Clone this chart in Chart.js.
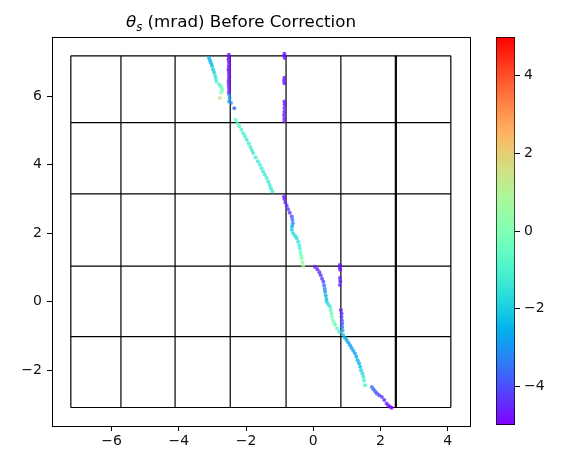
<!DOCTYPE html>
<html>
<head>
<meta charset="utf-8">
<script src="https://cdn.jsdelivr.net/npm/chart.js@4.4.1/dist/chart.umd.min.js"></script>
<style>
html, body { margin: 0; padding: 0; background: #fff; }
#wrap { position: relative; width: 565px; height: 454px; }
#main { position: absolute; left: 0; top: 0; }
#cbar { position: absolute; left: 496px; top: 0; }
</style>
</head>
<body>
<div id="wrap">
  <canvas id="main" width="565" height="454"></canvas>
  <canvas id="cbar" width="69" height="454"></canvas>
</div>
<script>
// scatter points: position and theta_s (mrad)
var posX = [
  -3.10, -3.07, -3.04, -3.01, -2.98, -2.95, -2.92, -2.90, -2.88, -2.80, -2.75, -2.72, -2.71, -2.74, -2.78,
  -2.50, -2.49, -2.50, -2.45, -2.35,
  -2.51, -2.51, -2.52, -2.51, -2.50, -2.51, -2.52, -2.51, -2.51, -2.50, -2.51, -2.52, -2.51, -2.51, -2.50, -2.51,
  -0.86, -0.86, -0.85, -0.86, -0.87, -0.86, -0.86, -0.85, -0.86, -0.86, -0.87, -0.86, -0.86,
  -2.31, -2.26, -2.20, -2.14, -2.08, -2.03, -1.98, -1.92, -1.87, -1.83, -1.79, -1.72, -1.65, -1.59, -1.54, -1.49, -1.44, -1.39, -1.34, -1.30, -1.26, -1.22,
  -0.87, -0.86, -0.83, -0.79, -0.75, -0.70, -0.64, -0.62, -0.61, -0.63, -0.64, -0.60, -0.54, -0.49, -0.45, -0.42, -0.40, -0.38, -0.36, -0.35, -0.32, -0.30,
  0.05, 0.12, 0.18, 0.22, 0.26, 0.30, 0.32, 0.34, 0.35, 0.37, 0.39, 0.40, 0.45, 0.50, 0.52, 0.54, 0.55, 0.58, 0.62, 0.65, 0.71, 0.77,
  0.79, 0.79, 0.80, 0.79, 0.80, 0.79, 0.82, 0.84, 0.84, 0.85, 0.86, 0.86, 0.87,
  0.89, 0.94, 0.99, 1.04, 1.09, 1.14, 1.19, 1.24, 1.28, 1.32, 1.36, 1.39, 1.42, 1.46, 1.49, 1.51, 1.54,
  1.74, 1.79, 1.84, 1.89, 1.96, 2.04, 2.11, 2.18, 2.23, 2.28, 2.33
];
var posY = [
  7.12, 7.04, 6.96, 6.88, 6.78, 6.70, 6.60, 6.52, 6.43, 6.34, 6.29, 6.22, 6.16, 6.10, 5.95,
  6.04, 5.95, 5.85, 5.80, 5.65,
  7.21, 7.15, 7.08, 7.00, 6.93, 6.86, 6.79, 6.72, 6.65, 6.58, 6.50, 6.42, 6.35, 6.27, 6.20, 6.12,
  7.24, 7.18, 7.12, 6.54, 6.46, 6.38, 5.85, 5.76, 5.66, 5.55, 5.45, 5.36, 5.28,
  5.31, 5.22, 5.12, 5.02, 4.92, 4.83, 4.73, 4.62, 4.52, 4.43, 4.34, 4.22, 4.10, 4.00, 3.90, 3.80, 3.71, 3.61, 3.51, 3.41, 3.31, 3.22,
  3.07, 3.00, 2.90, 2.80, 2.70, 2.60, 2.49, 2.39, 2.29, 2.20, 2.10, 2.00, 1.92, 1.85, 1.75, 1.65, 1.56, 1.45, 1.35, 1.27, 1.15, 1.04,
  1.02, 0.95, 0.86, 0.77, 0.67, 0.58, 0.48, 0.38, 0.29, 0.18, 0.08, 0.00, -0.08, -0.15, -0.25, -0.35, -0.44, -0.54, -0.62, -0.68, -0.78, -0.88,
  1.07, 1.00, 0.93, 0.69, 0.60, 0.49, -0.24, -0.34, -0.44, -0.54, -0.64, -0.74, -0.84,
  -0.97, -1.05, -1.12, -1.19, -1.27, -1.35, -1.43, -1.51, -1.61, -1.71, -1.80, -1.90, -2.00, -2.10, -2.19, -2.30, -2.44,
  -2.49, -2.56, -2.62, -2.68, -2.73, -2.78, -2.87, -2.97, -3.03, -3.07, -3.10
];
var thetaS = [
  -2.6, -2.5, -2.4, -2.3, -2.1, -1.9, -1.6, -1.3, -1.1, -0.8, -0.5, -0.3, -0.1, 0.2, 1.5,
  -3.2, -3.0, -2.8, -3.3, -3.6,
  -4.8, -4.8, -4.7, -4.8, -4.6, -4.8, -4.7, -4.8, -4.6, -4.8, -4.7, -4.8, -4.6, -4.7, -4.5, -4.6,
  -4.7, -4.8, -4.6, -4.7, -4.6, -4.8, -4.7, -4.8, -4.6, -4.7, -4.8, -4.7, -4.6,
  -0.6, -0.8, -1.0, -1.1, -1.2, -1.2, -1.3, -1.3, -1.2, -1.2, -1.3, -1.3, -1.4, -1.3, -1.3, -1.4, -1.3, -1.3, -1.4, -1.3, -1.4, -1.3,
  -4.6, -4.7, -4.5, -4.4, -4.3, -4.2, -4.0, -3.6, -3.2, -2.6, -2.0, -1.9, -1.8, -1.7, -1.5, -1.2, -1.0, -0.6, -0.2, 0.0, 0.5, 0.8,
  -4.7, -4.6, -4.5, -4.4, -4.2, -4.0, -3.6, -3.2, -3.0, -2.6, -2.3, -2.0, -1.6, -1.3, -0.8, -0.3, 0.0, -0.1, -0.2, -0.3, -0.6, -1.0,
  -4.8, -4.8, -4.7, -4.5, -4.6, -4.5, -4.6, -4.4, -4.2, -4.0, -3.8, -3.5, -3.0,
  -2.2, -2.5, -2.7, -2.8, -2.8, -2.8, -2.8, -2.8, -2.7, -2.5, -2.4, -2.3, -2.0, -1.7, -1.5, -1.2, -1.0,
  -3.4, -3.6, -3.8, -4.0, -4.2, -4.3, -4.5, -4.6, -4.7, -4.8, -4.9
];

// module outline grid (data units)
var gridXs = [-7.21, -5.72, -4.11, -2.47, -0.81, 0.82, 2.44, 2.47, 4.09];
var gridYs = [-3.09, -1.02, 1.04, 3.15, 5.23, 7.18];

var xRange = [-7.77, 4.66];
var yRange = [-3.63, 7.73];
var xTicks = [-6, -4, -2, 0, 2, 4];
var yTicks = [-2, 0, 2, 4, 6];
var cbRange = [-5, 5];
var cbTicks = [-4, -2, 0, 2, 4];

var titleSymbol = 'θ';
var titleSub = 's';
var titleRest = ' (mrad) Before Correction';

var FONT = '"DejaVu Sans", sans-serif';

function rainbow(v, a) {
  var t = (v - cbRange[0]) / (cbRange[1] - cbRange[0]);
  t = Math.max(0, Math.min(1, t));
  var r = Math.min(1, Math.abs(2 * t - 0.5));
  var g = Math.sin(t * Math.PI);
  var b = Math.cos(t * Math.PI / 2);
  return 'rgba(' + Math.round(r * 255) + ',' + Math.round(g * 255) + ',' + Math.round(b * 255) + ',' + a + ')';
}

function fmt(v) {
  return v < 0 ? '\u2212' + Math.abs(v) : String(v);
}

var points = posX.map(function (x, i) { return { x: x, y: posY[i] }; });
var pointColors = thetaS.map(function (v) { return rainbow(v, 0.8); });

var datasets = [{
  data: points,
  pointRadius: 2,
  pointBorderWidth: 0,
  pointBackgroundColor: pointColors,
  order: 0
}];
var yLo = gridYs[0], yHi = gridYs[gridYs.length - 1];
var xLo = gridXs[0], xHi = gridXs[gridXs.length - 1];
gridXs.forEach(function (gx) {
  datasets.push({ data: [{ x: gx, y: yLo }, { x: gx, y: yHi }], showLine: true, pointRadius: 0,
    borderColor: '#000', borderWidth: 1.2, order: 1 });
});
gridYs.forEach(function (gy) {
  datasets.push({ data: [{ x: xLo, y: gy }, { x: xHi, y: gy }], showLine: true, pointRadius: 0,
    borderColor: '#000', borderWidth: 1.2, order: 1 });
});

var framePlugin = {
  id: 'frame',
  afterDraw: function (chart) {
    var a = chart.chartArea, c = chart.ctx;
    c.save();
    c.strokeStyle = '#000';
    c.lineWidth = 1;
    c.strokeRect(Math.round(a.left) + 0.5, Math.round(a.top) + 0.5, Math.round(a.right - a.left), Math.round(a.bottom - a.top));
    c.restore();
  }
};

var titlePlugin = {
  id: 'mplTitle',
  afterDraw: function (chart) {
    var c = chart.ctx;
    var big = '16.7px ' + FONT, ital = 'italic 16.7px ' + FONT, sub = 'italic 11.7px ' + FONT;
    c.save();
    c.fillStyle = '#000';
    c.textBaseline = 'alphabetic';
    c.font = ital; var w1 = c.measureText(titleSymbol).width;
    c.font = sub; var w2 = c.measureText(titleSub).width;
    c.font = big; var w3 = c.measureText(titleRest).width;
    var x = 241 - (w1 + w2 + w3) / 2, y = 27;
    c.font = ital; c.fillText(titleSymbol, x, y);
    c.font = sub; c.fillText(titleSub, x + w1, y + 3.5);
    c.font = big; c.fillText(titleRest, x + w1 + w2, y);
    c.restore();
  }
};

var tickFont = { family: FONT, size: 14 };

new Chart(document.getElementById('main'), {
  type: 'scatter',
  data: { datasets: datasets },
  options: {
    responsive: false,
    animation: false,
    layout: { padding: { top: 37, right: 95, left: 0, bottom: 0 } },
    plugins: { legend: { display: false }, tooltip: { enabled: false }, title: { display: false } },
    scales: {
      x: {
        type: 'linear', min: xRange[0], max: xRange[1],
        afterFit: function (s) { s.height = 28; },
        afterBuildTicks: function (s) { s.ticks = xTicks.map(function (v) { return { value: v }; }); },
        grid: { drawOnChartArea: false, drawTicks: true, tickLength: 5, color: '#000' },
        border: { display: false },
        ticks: { font: tickFont, color: '#111', padding: 2, maxRotation: 0, callback: fmt }
      },
      y: {
        type: 'linear', min: yRange[0], max: yRange[1],
        afterFit: function (s) { s.width = 52; },
        afterBuildTicks: function (s) { s.ticks = yTicks.map(function (v) { return { value: v }; }); },
        grid: { drawOnChartArea: false, drawTicks: true, tickLength: 5, color: '#000' },
        border: { display: false },
        ticks: { font: tickFont, color: '#111', padding: 5, callback: fmt }
      }
    }
  },
  plugins: [framePlugin, titlePlugin]
});

function cbGradient(ctx) {
  var ca = ctx.chart.chartArea;
  if (!ca) return 'rgba(0,0,0,0)';
  var g = ctx.chart.ctx.createLinearGradient(0, ca.bottom, 0, ca.top);
  for (var i = 0; i <= 20; i++) {
    var v = cbRange[0] + (cbRange[1] - cbRange[0]) * i / 20;
    g.addColorStop(i / 20, rainbow(v, 1));
  }
  return g;
}

new Chart(document.getElementById('cbar'), {
  type: 'bar',
  data: {
    labels: [''],
    datasets: [{
      data: [cbRange],
      backgroundColor: cbGradient,
      borderColor: '#000',
      borderWidth: 1,
      borderSkipped: false,
      barPercentage: 1,
      categoryPercentage: 1
    }]
  },
  options: {
    responsive: false,
    animation: false,
    layout: { padding: { top: 37, bottom: 29, left: 0, right: 0 } },
    plugins: { legend: { display: false }, tooltip: { enabled: false } },
    scales: {
      x: { display: false },
      y: {
        position: 'right', min: cbRange[0], max: cbRange[1],
        afterFit: function (s) { s.width = 50; },
        afterBuildTicks: function (s) { s.ticks = cbTicks.map(function (v) { return { value: v }; }); },
        grid: { drawOnChartArea: false, drawTicks: true, tickLength: 5, color: '#000' },
        border: { display: false },
        ticks: { font: tickFont, color: '#111', padding: 4, callback: fmt }
      }
    }
  }
});
</script>
</body>
</html>
